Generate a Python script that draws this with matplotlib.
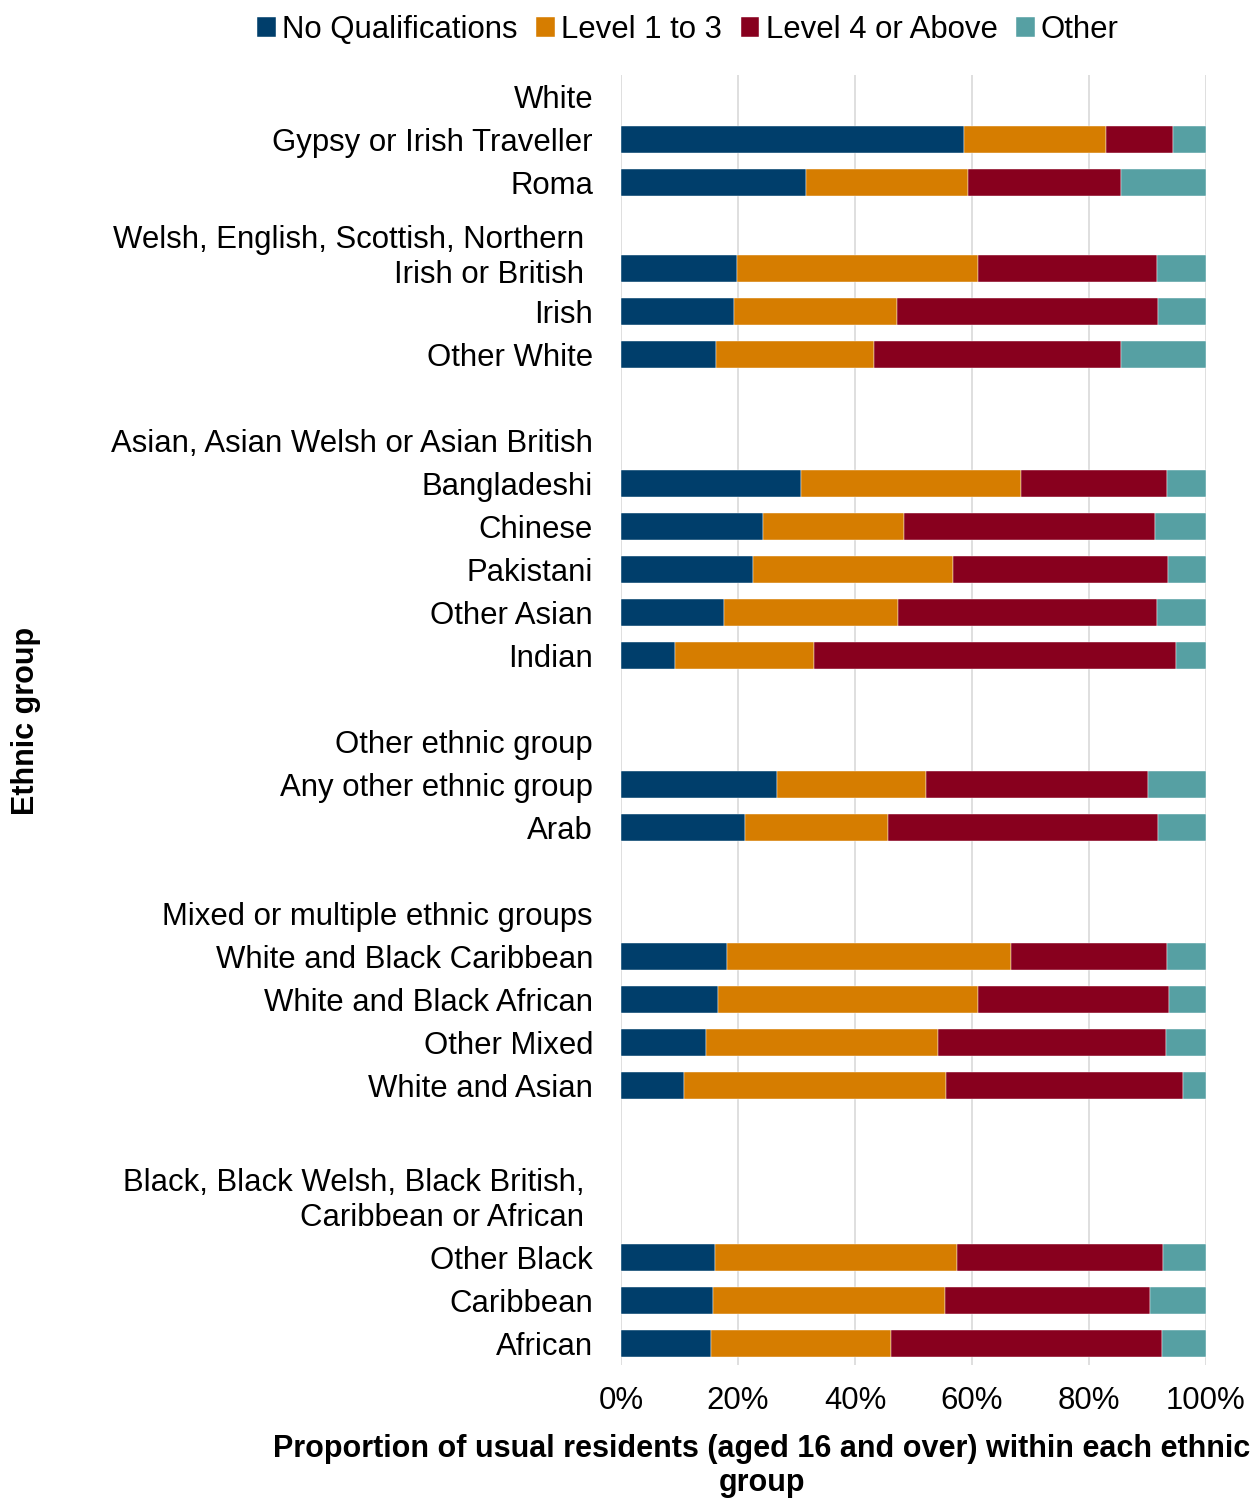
import matplotlib
matplotlib.use("Agg")
import matplotlib.pyplot as plt
import numpy as np

plt.rcParams['font.family'] = ['Liberation Sans', 'DejaVu Sans']

# Group headers (label-only rows)
headers = ["White",
           "Asian, Asian Welsh or Asian British",
           "Other ethnic group",
           "Mixed or multiple ethnic groups",
           "Black, Black Welsh, Black British, \nCaribbean or African "]

# Bar categories, top to bottom
categories = ["Gypsy or Irish Traveller", "Roma",
              "Welsh, English, Scottish, Northern \nIrish or British ",
              "Irish", "Other White",
              "Bangladeshi", "Chinese", "Pakistani", "Other Asian", "Indian",
              "Any other ethnic group", "Arab",
              "White and Black Caribbean", "White and Black African",
              "Other Mixed", "White and Asian",
              "Other Black", "Caribbean", "African"]

# Percentages
no_qual = [58.7, 31.7, 19.8, 19.4, 16.3,
           30.7, 24.2, 22.6, 17.6, 9.2,
           26.7, 21.2,
           18.2, 16.5, 14.6, 10.8,
           16.0, 15.8, 15.4]
level_1_3 = [24.2, 27.6, 41.2, 27.8, 26.9,
             37.7, 24.2, 34.1, 29.7, 23.8,
             25.5, 24.4,
             48.5, 44.5, 39.6, 44.8,
             41.5, 39.6, 30.7]
level_4 = [11.5, 26.2, 30.6, 44.6, 42.3,
           24.9, 42.9, 36.8, 44.3, 61.9,
           37.9, 46.2,
           26.6, 32.6, 39.0, 40.5,
           35.2, 35.1, 46.4]
other = [5.6, 14.5, 8.4, 8.2, 14.5,
         6.7, 8.7, 6.5, 8.4, 5.1,
         9.9, 8.2,
         6.7, 6.4, 6.8, 3.9,
         7.3, 9.5, 7.5]

series = [("No Qualifications", no_qual, "#003E6B"),
          ("Level 1 to 3", level_1_3, "#D67D00"),
          ("Level 4 or Above", level_4, "#88001E"),
          ("Other", other, "#56A0A3")]

# Row layout (rows are one bar slot each, top = 0)
header_rows = [0, 8, 15, 19, 25.6]
bar_rows = np.array([1, 2, 4, 5, 6, 9, 10, 11, 12, 13, 16, 17,
                     20, 21, 22, 23, 27, 28, 29])
label_shift = {2: -0.33}
text_drop = 0.08  # labels sit slightly below bar centres

fs = 22.4
fig = plt.figure(figsize=(12.6, 14.99), dpi=100)
ax = fig.add_axes([621 / 1260, 1 - 1365 / 1499, 585 / 1260, (1365 - 75) / 1499])

left = np.zeros(len(categories))
for name, vals, color in series:
    vals = np.array(vals) / 100
    ax.barh(bar_rows, vals, left=left, height=0.65, color=color, label=name,
            edgecolor="white", linewidth=0.3, zorder=3)
    left += vals

ax.set_ylim(29.5, -0.5)
ax.set_xlim(0, 1)
ax.set_xticks(np.linspace(0, 1, 6))
ax.set_xticklabels([f"{int(v)}%" for v in np.linspace(0, 100, 6)], fontsize=fs)
ax.tick_params(axis='x', length=0, pad=15)
ax.set_yticks([])
ax.grid(axis='x', color="#D9D9D9", linewidth=1.2, zorder=0)
for s in ax.spines.values():
    s.set_visible(False)

lab_x = -28 / 585
for i, (row, name) in enumerate(zip(bar_rows, categories)):
    ax.text(lab_x, row + label_shift.get(i, 0) + text_drop, name,
            transform=ax.get_yaxis_transform(),
            ha='right', va='center', fontsize=fs, linespacing=1.22)
for row, name in zip(header_rows, headers):
    ax.text(lab_x, row + text_drop, name, transform=ax.get_yaxis_transform(),
            ha='right', va='center', fontsize=fs, linespacing=1.22)

fig.text(762 / 1260, 1 - 1466 / 1499,
         "Proportion of usual residents (aged 16 and over) within each ethnic\ngroup",
         ha='center', va='center', fontsize=22, fontweight='bold', linespacing=1.15)
fig.text(26 / 1260, 1 - 721 / 1499, "Ethnic group", rotation=90,
         ha='center', va='center', fontsize=22, fontweight='bold')

fig.legend(loc='center', bbox_to_anchor=(688 / 1260, 1 - 30 / 1499), ncol=4,
           frameon=False, fontsize=fs, handlelength=0.6, handleheight=0.6,
           handletextpad=0.2, columnspacing=0.6, borderaxespad=0)

plt.savefig("out.png", dpi=100)
